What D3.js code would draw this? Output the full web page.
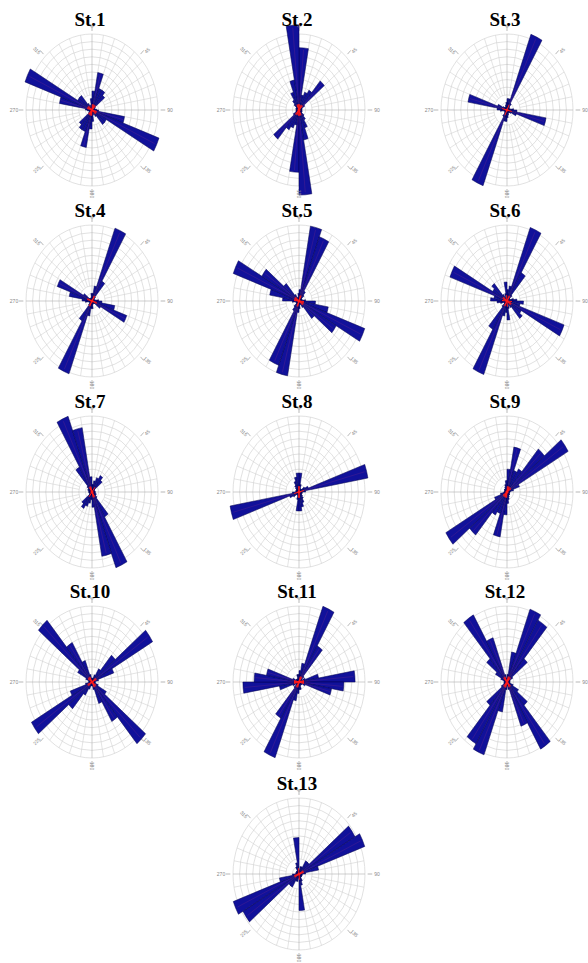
<!DOCTYPE html>
<html>
<head>
<meta charset="utf-8">
<script src="https://cdn.jsdelivr.net/npm/d3@7"></script>
<style>
  body { margin: 0; background: #fff; }
  svg { display: block; }
</style>
</head>
<body>
<svg id="roses" width="588" height="963"></svg>
<script>
// station names, in reading order
var stations = ["St.1", "St.2", "St.3", "St.4", "St.5", "St.6", "St.7",
                "St.8", "St.9", "St.10", "St.11", "St.12", "St.13"];

// start of each 10 degree class (axial data, drawn on both sides)
var binStart = [0, 10, 20, 30, 40, 50, 60, 70, 80, 90, 100, 110, 120, 130, 140, 150, 160, 170];

// frequencies per class (outer ring = 10)
var st1  = [2.5, 5, 3, 3, 2.5, 0.6, 0.4, 0.5, 0.7, 1, 5, 10.8, 2.5, 2.5, 1, 0.5, 0.7, 1.5];
var st2  = [8.2, 2, 2.5, 3, 5, 1, 0.5, 0.5, 0.4, 0.4, 0.5, 0.5, 0.5, 1, 1.5, 2.5, 4, 11.2];
var st3  = [1.5, 1.5, 10.6, 1, 0.5, 0.4, 0.4, 0.5, 1, 1.5, 6, 1.5, 0.7, 0.5, 0.4, 0.5, 0.7, 1];
var st4  = [1, 2, 10.2, 3, 0.7, 0.4, 0.4, 0.5, 1, 1.5, 3.5, 5.6, 1.5, 0.5, 0.4, 0.4, 0.5, 1];
var st5  = [1.5, 10, 9, 1.5, 1, 0.5, 0.5, 0.5, 1, 2.5, 4.5, 10.6, 6.5, 3, 1, 0.5, 0.5, 1];
var st6  = [1.5, 2, 10.3, 4.3, 1, 0.5, 0.5, 1, 1.5, 2.5, 2, 9.2, 2.5, 3, 1, 0.5, 1, 2.5];
var st7  = [1, 1.5, 2, 2.5, 2, 0.5, 0.4, 0.4, 0.5, 0.5, 0.5, 0.7, 0.7, 1, 3.8, 10.6, 8.6, 2];
var st8  = [2.5, 1, 0.5, 0.5, 0.5, 1, 1.5, 10.6, 1, 0.5, 0.5, 0.5, 0.5, 0.7, 1, 1.5, 2, 2.5];
var st9  = [3, 6, 3, 3.5, 7.4, 10.7, 2, 1, 0.5, 0.4, 0.4, 0.4, 0.5, 0.5, 0.5, 0.7, 1, 1.5];
var st10 = [0.5, 0.5, 1, 2, 4.6, 10.6, 3.5, 1, 0.5, 0.5, 0.5, 1, 2.5, 10.6, 6, 3, 1, 0.5];
var st11 = [1.5, 2.5, 10.6, 5.5, 1, 0.5, 1, 3, 8.5, 6.8, 5, 1, 0.5, 0.5, 0.5, 0.5, 1, 1];
var st12 = [1, 4, 10.2, 9.4, 4, 1, 0.5, 0.5, 0.4, 0.4, 0.5, 1, 2, 4, 10.2, 6.2, 1, 0.5];
var st13 = [0.5, 1, 1, 2, 2, 9.8, 10.6, 3, 1, 0.5, 0.5, 0.5, 0.5, 0.5, 0.5, 1, 1.5, 4.8];

var stationValues = [st1, st2, st3, st4, st5, st6, st7, st8, st9, st10, st11, st12, st13];

// direction labels and rings
var dirTicks = [0, 45, 90, 135, 180, 225, 270, 315];
var rings = [1, 2, 3, 4, 5, 6, 7, 8, 9, 10];

var svg = d3.select("#roses");

var colX = [92, 299, 507],
    rowY = [110, 301, 492, 682, 874];

var rx = 66,              // horizontal radius of outer ring
    ky = 76 / 66;         // the plots are a bit taller than wide

var r = d3.scaleLinear().domain([0, 10]).range([0, rx]);
var rad = Math.PI / 180;

var arc = d3.arc()
    .innerRadius(0)
    .outerRadius(function (d) { return r(d.v); })
    .startAngle(function (d) { return d.a * rad; })
    .endAngle(function (d) { return (d.a + 10) * rad; });

stations.forEach(function (name, i) {
    var cx = i < 12 ? colX[i % 3] : colX[1],
        cy = i < 12 ? rowY[Math.floor(i / 3)] : rowY[4];
    var vals = stationValues[i];

    var g = svg.append("g").attr("transform", "translate(" + cx + "," + cy + ")");
    var p = g.append("g").attr("transform", "scale(1," + ky + ")");

    // rings
    p.selectAll(".ring")
        .data(rings)
        .enter().append("circle")
        .attr("class", "ring")
        .attr("r", function (d) { return r(d); })
        .attr("fill", "none")
        .attr("stroke", "#cccccc")
        .attr("stroke-width", 0.6)
        .attr("vector-effect", "non-scaling-stroke");

    // spokes every 10 degrees, main axes through the centre
    p.selectAll(".spoke")
        .data(d3.range(0, 360, 10))
        .enter().append("line")
        .attr("class", "spoke")
        .attr("x1", function (d) { return Math.sin(d * rad) * r(d % 90 === 0 ? 0 : 2); })
        .attr("y1", function (d) { return -Math.cos(d * rad) * r(d % 90 === 0 ? 0 : 2); })
        .attr("x2", function (d) { return Math.sin(d * rad) * r(10); })
        .attr("y2", function (d) { return -Math.cos(d * rad) * r(10); })
        .attr("stroke", function (d) { return d % 90 === 0 ? "#b0b0b0" : "#d2d2d2"; })
        .attr("stroke-width", 0.6)
        .attr("vector-effect", "non-scaling-stroke");

    // little tick marks at labelled directions
    p.selectAll(".tick")
        .data(dirTicks)
        .enter().append("line")
        .attr("x1", function (d) { return Math.sin(d * rad) * r(10.4); })
        .attr("y1", function (d) { return -Math.cos(d * rad) * r(10.4); })
        .attr("x2", function (d) { return Math.sin(d * rad) * r(11.1); })
        .attr("y2", function (d) { return -Math.cos(d * rad) * r(11.1); })
        .attr("stroke", "#999")
        .attr("stroke-width", 0.7)
        .attr("vector-effect", "non-scaling-stroke");

    // both ends of each axial class
    var bars = [];
    binStart.forEach(function (a, k) {
        bars.push({a: a, v: vals[k]});
        bars.push({a: a + 180, v: vals[k]});
    });

    p.selectAll(".bar")
        .data(bars)
        .enter().append("path")
        .attr("class", "bar")
        .attr("d", arc)
        .attr("fill", "#11119a")
        .attr("stroke", "#000050")
        .attr("stroke-width", 0.5)
        .attr("vector-effect", "non-scaling-stroke");

    // faint red centre lines on the long petals
    p.selectAll(".mid")
        .data(bars.filter(function (d) { return d.v >= 5; }))
        .enter().append("line")
        .attr("x1", 0).attr("y1", 0)
        .attr("x2", function (d) { return Math.sin((d.a + 5) * rad) * r(d.v) * 0.97; })
        .attr("y2", function (d) { return -Math.cos((d.a + 5) * rad) * r(d.v) * 0.97; })
        .attr("stroke", "#e04070")
        .attr("stroke-opacity", 0.3)
        .attr("stroke-width", 0.5)
        .attr("vector-effect", "non-scaling-stroke");

    // red star at the centre
    p.selectAll(".star")
        .data(bars.filter(function (d) { return d.v >= 2.5; }))
        .enter().append("line")
        .attr("x1", 0).attr("y1", 0)
        .attr("x2", function (d) { return Math.sin((d.a + 5) * rad) * Math.min(r(d.v), 5); })
        .attr("y2", function (d) { return -Math.cos((d.a + 5) * rad) * Math.min(r(d.v), 5); })
        .attr("stroke", "#ff1a1a")
        .attr("stroke-width", 1)
        .attr("vector-effect", "non-scaling-stroke");
    g.append("circle").attr("r", 1.6).attr("fill", "#ff1a1a");

    // direction labels
    g.selectAll(".dir")
        .data(dirTicks)
        .enter().append("text")
        .attr("transform", function (d) {
            var x = Math.sin(d * rad) * (rx + 12),
                y = -Math.cos(d * rad) * (rx * ky + 8),
                rot = d <= 180 ? d - 90 : d - 270;
            return "translate(" + x + "," + y + ") rotate(" + rot + ")";
        })
        .attr("text-anchor", "middle")
        .attr("dy", "0.35em")
        .style("font", "5px 'Liberation Sans', sans-serif")
        .attr("fill", "#888")
        .text(function (d) { return d; });

    // station title
    g.append("text")
        .attr("x", -2)
        .attr("y", -84)
        .attr("text-anchor", "middle")
        .style("font", "bold 19px 'Liberation Serif', 'Times New Roman', serif")
        .attr("fill", "#000")
        .text(name);
});
</script>
</body>
</html>
